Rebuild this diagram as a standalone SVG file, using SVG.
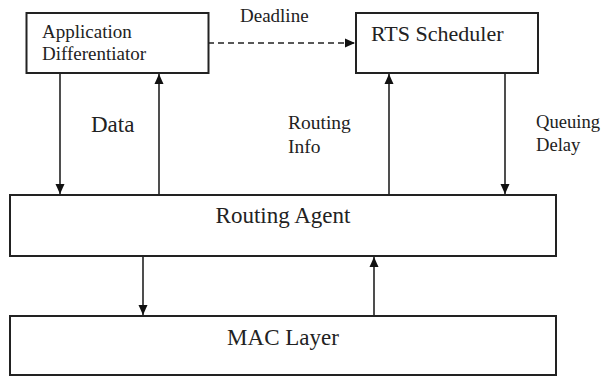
<svg xmlns="http://www.w3.org/2000/svg" width="605" height="376" viewBox="0 0 605 376">
<style>
.box{fill:#fff;stroke:#222;stroke-width:2}
.t{font-family:"Liberation Serif","Times New Roman",serif;fill:#222}
.c{stroke:#222;stroke-width:1.6;fill:none}
</style>
<defs>
<marker id="ah" viewBox="0 0 10 10" refX="10" refY="5" markerWidth="10" markerHeight="10" markerUnits="userSpaceOnUse" orient="auto">
<path d="M0,0.5 L10,5 L0,9.5 Z" fill="#111"/>
</marker>
</defs>
<rect width="605" height="376" fill="#fff"/>
<g id="app">
<rect class="box" x="26.5" y="13" width="182" height="60"/>
<text class="t" x="42" y="38" font-size="19">Application</text>
<text class="t" x="42" y="60" font-size="19">Differentiator</text>
</g>
<g id="rts">
<rect class="box" x="356" y="13" width="182" height="60"/>
<text class="t" x="371" y="41" font-size="22">RTS Scheduler</text>
</g>
<g id="routing">
<rect class="box" x="10" y="195" width="546" height="61"/>
<text class="t" x="283" y="223" font-size="23" text-anchor="middle">Routing Agent</text>
</g>
<g id="mac">
<rect class="box" x="10" y="316" width="546" height="59"/>
<text class="t" x="283" y="345" font-size="23" text-anchor="middle">MAC Layer</text>
</g>
<g id="connectors">
<line class="c" x1="208" y1="43" x2="355" y2="43" stroke-dasharray="6,4" marker-end="url(#ah)"/>
<line class="c" x1="60" y1="73" x2="60" y2="194" marker-end="url(#ah)"/>
<line class="c" x1="159" y1="195" x2="159" y2="74" marker-end="url(#ah)"/>
<line class="c" x1="389" y1="195" x2="389" y2="74" marker-end="url(#ah)"/>
<line class="c" x1="505" y1="73" x2="505" y2="194" marker-end="url(#ah)"/>
<line class="c" x1="143" y1="256" x2="143" y2="315" marker-end="url(#ah)"/>
<line class="c" x1="374" y1="316" x2="374" y2="257" marker-end="url(#ah)"/>
</g>
<g id="labels">
<text class="t" x="240" y="22" font-size="19">Deadline</text>
<text class="t" x="91" y="132" font-size="23">Data</text>
<text class="t" x="288" y="129" font-size="19.5">Routing</text>
<text class="t" x="288" y="153" font-size="19.5">Info</text>
<text class="t" x="536" y="128" font-size="18.6">Queuing</text>
<text class="t" x="536" y="151" font-size="18.6">Delay</text>
</g>
</svg>
